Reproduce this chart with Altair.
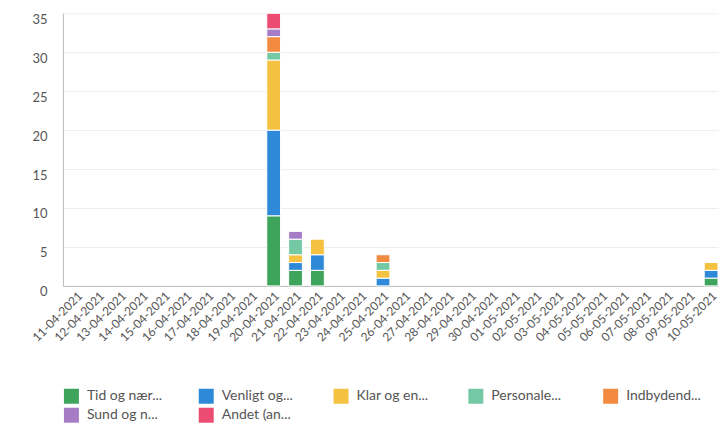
import altair as alt
import pandas as pd

dates = [f"{d:02d}-04-2021" for d in range(11, 31)] + [f"{d:02d}-05-2021" for d in range(1, 11)]

categories = ["Tid og nær...", "Venligt og...", "Klar og en...", "Personale...",
              "Indbydend...", "Sund og n...", "Andet (an..."]
colors = ["#3ea35b", "#2f89d9", "#f4c240", "#74c9a4", "#f28b3f", "#a67cc6", "#ec4b72"]

def series(pairs):
    v = [0] * 30
    for i, val in pairs.items():
        v[i] = val
    return v

tid = series({9: 9, 10: 2, 11: 2, 29: 1})
venligt = series({9: 11, 10: 1, 11: 2, 14: 1, 29: 1})
klar = series({9: 9, 10: 1, 11: 2, 14: 1, 29: 1})
personale = series({9: 1, 10: 2, 14: 1})
indbydend = series({9: 2, 14: 1})
sund = series({9: 1, 10: 1})
andet = series({9: 2})

all_series = [tid, venligt, klar, personale, indbydend, sund, andet]

rows = []
for ci, (cat, vals) in enumerate(zip(categories, all_series)):
    for d, v in zip(dates, vals):
        if v > 0:
            rows.append({"dato": d, "kategori": cat, "antal": v, "ordre": ci})
df = pd.DataFrame(rows)

FONT = "Lato"
chart = alt.Chart(df).mark_bar(stroke="white", strokeWidth=1).encode(
    x=alt.X("dato:N", sort=dates,
            scale=alt.Scale(domain=dates, paddingInner=0.37, paddingOuter=0.16, align=1),
            axis=alt.Axis(title=None, labelAngle=-45, labelFontSize=12, labelColor="#555",
                          labelFont=FONT, ticks=False, tickSize=0, labelPadding=4,
                          domainColor="#bbb", grid=False)),
    y=alt.Y("antal:Q", stack="zero", scale=alt.Scale(domain=[0, 35], nice=False),
            axis=alt.Axis(title=None, values=[0, 5, 10, 15, 20, 25, 30, 35], labelFontSize=13,
                          labelColor="#555", labelFont=FONT, ticks=False, tickSize=0,
                          labelPadding=16, labelBaseline="top", domainColor="#bbb",
                          gridColor="#eeeeee")),
    color=alt.Color("kategori:N", sort=categories,
                    scale=alt.Scale(domain=categories, range=colors),
                    legend=alt.Legend(title=None, orient="none", legendX=1, legendY=376,
                                      direction="horizontal", columns=5, symbolType="square",
                                      symbolSize=225, symbolStrokeWidth=0, labelFontSize=14,
                                      labelColor="#555", labelFont=FONT, labelOffset=8,
                                      columnPadding=36, rowPadding=4, gridAlign="all",
                                      labelLimit=200)),
    order=alt.Order("ordre:Q", sort="ascending"),
).properties(
    width=656, height=273,
    padding={"left": 22, "top": 4, "right": 0, "bottom": 0},
).configure_view(stroke=None)

chart.save("out.html", embed_options={"renderer": "svg", "actions": False})
